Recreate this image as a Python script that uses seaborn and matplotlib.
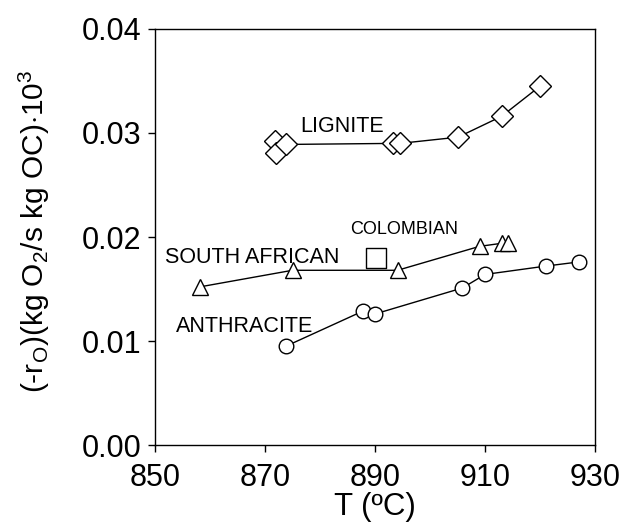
import pandas as pd
import matplotlib
matplotlib.use("Agg")
import matplotlib.pyplot as plt
import seaborn as sns

# --- Daten ---
LIGNITE_T = [871.8, 872.0, 873.8, 893.3, 894.5, 905.1, 913.0, 920.0]
LIGNITE_R = [0.0292, 0.0281, 0.0289, 0.0290, 0.0290, 0.0296, 0.0316, 0.0345]

SOUTH_AFRICAN_T = [858.1, 875.0, 894.1, 909.0, 913.1, 914.2]
SOUTH_AFRICAN_R = [0.0152, 0.0168, 0.0168, 0.0191, 0.0194, 0.0194]

ANTHRACITE_T = [873.8, 887.9, 890.0, 905.9, 910.0, 921.0, 927.0]
ANTHRACITE_R = [0.0095, 0.0129, 0.0126, 0.0151, 0.0164, 0.0172, 0.0176]

COLOMBIAN_T = [890.1]
COLOMBIAN_R = [0.0180]

X_TICKS = [850, 870, 890, 910, 930]
Y_TICKS = [0.00, 0.01, 0.02, 0.03, 0.04]

sns.set_theme(style="ticks")
plt.rcParams['font.family'] = ['Liberation Sans', 'DejaVu Sans']
plt.rcParams['mathtext.fontset'] = 'custom'
plt.rcParams['mathtext.rm'] = 'Liberation Sans'
plt.rcParams['mathtext.it'] = 'Liberation Sans'
plt.rcParams['text.color'] = 'black'
plt.rcParams['axes.labelcolor'] = 'black'

fig = plt.figure(figsize=(6.26, 5.32), dpi=100)
ax = fig.add_axes([0.2476, 0.1635, 0.7029, 0.782])

series = [
    (LIGNITE_T, LIGNITE_R, 'D', 11.5),
    (SOUTH_AFRICAN_T, SOUTH_AFRICAN_R, '^', 11),
    (ANTHRACITE_T, ANTHRACITE_R, 'o', 10.5),
]
for t_vals, r_vals, mk, ms in series:
    df = pd.DataFrame({'T': t_vals, 'r': r_vals})
    sns.lineplot(data=df, x='T', y='r', ax=ax, color='black', linewidth=1.0,
                 estimator=None, sort=True, marker=mk, markersize=ms,
                 markerfacecolor='white', markeredgecolor='black',
                 markeredgewidth=1.0)

df_col = pd.DataFrame({'T': COLOMBIAN_T, 'r': COLOMBIAN_R})
sns.scatterplot(data=df_col, x='T', y='r', ax=ax, marker='s', s=15.0 ** 2,
                facecolor='white', edgecolor='black', linewidth=1.0, zorder=3)

# Beschriftungen der Kohlesorten
ax.text(876.4, 0.0301, 'LIGNITE', fontsize=15.5, ha='left', va='baseline')
ax.text(851.8, 0.01747, 'SOUTH AFRICAN', fontsize=15.5, ha='left', va='baseline')
ax.text(885.45, 0.02026, 'COLOMBIAN', fontsize=13, ha='left', va='baseline')
ax.text(853.8, 0.0109, 'ANTHRACITE', fontsize=15.5, ha='left', va='baseline')

ax.set_xlim(850, 930)
ax.set_ylim(0, 0.04)
ax.set_xticks(X_TICKS)
ax.set_yticks(Y_TICKS)
ax.set_yticklabels([f'{v:.2f}' for v in Y_TICKS])
ax.tick_params(axis='both', direction='out', length=5, width=1.0,
               labelsize=22, colors='black')
ax.tick_params(axis='x', pad=8)
ax.tick_params(axis='y', pad=5)

ax.set_xlabel('T (ºC)', fontsize=22.5)
ax.xaxis.set_label_coords(0.5, -0.112)
ax.set_ylabel(r'(-r$_\mathrm{O}$)(kg O$_2$/s kg OC)$\cdot$10$^3$', fontsize=21.5)
ax.yaxis.set_label_coords(-0.235, 0.514)

for side in ['top', 'right', 'bottom', 'left']:
    ax.spines[side].set_visible(True)
    ax.spines[side].set_color('black')
    ax.spines[side].set_linewidth(1.0)

fig.savefig('out.png', dpi=100)
